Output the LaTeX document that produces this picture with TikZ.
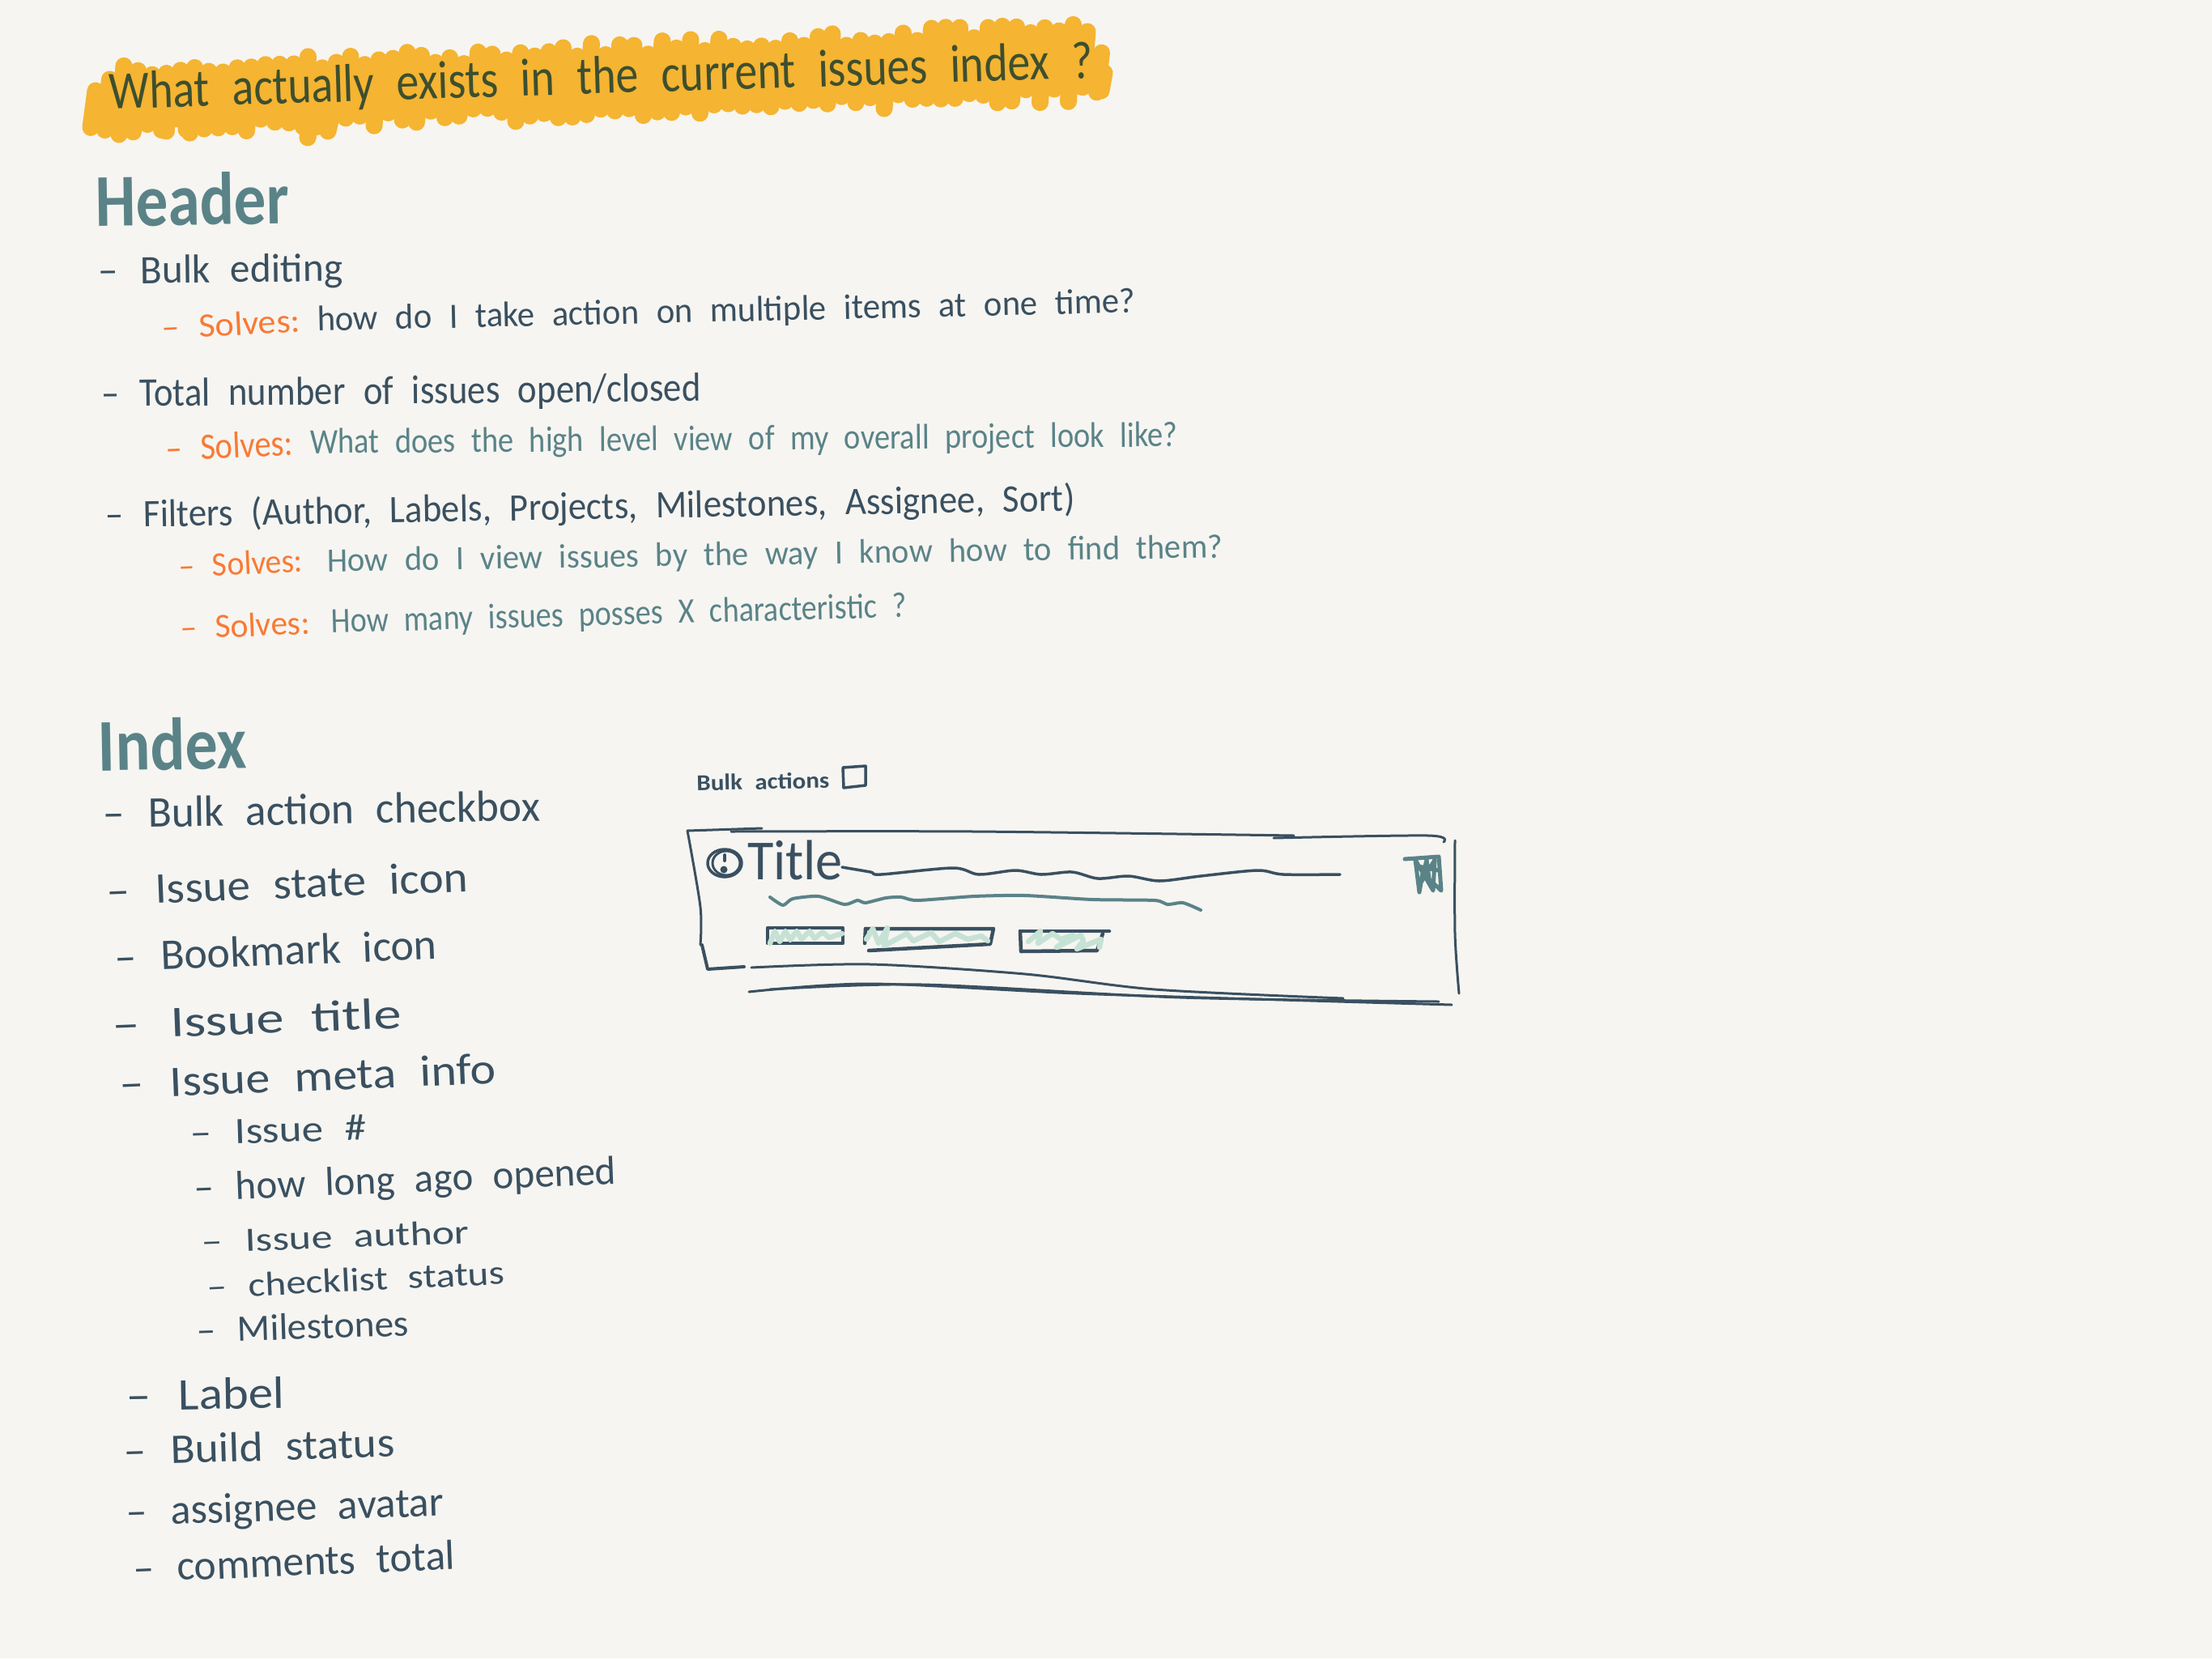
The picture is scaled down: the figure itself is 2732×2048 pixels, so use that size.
\documentclass[tikz,border=0pt]{standalone}
\usepackage{graphicx}
\usepackage{fontspec}
\setmainfont{Carlito}
\definecolor{bgc}{HTML}{F6F5F1}
\definecolor{inkc}{HTML}{3A5060}
\definecolor{tealc}{HTML}{5A8388}
\definecolor{orangec}{HTML}{F97A35}
\definecolor{yellowc}{HTML}{F5B431}
\definecolor{titlec}{HTML}{3D4F2F}
\definecolor{mintc}{HTML}{C6E2D4}
\tikzset{
  hwtext/.style={inner sep=0pt,anchor=base},
  sketch/.style={draw=inkc,line width=3pt,line cap=round,line join=round},
  tagbox/.style={draw=inkc,line width=4.5pt,line cap=round,line join=round},
  tealsketch/.style={draw=tealc,line width=3.2pt,line cap=round,line join=round},
  mintsketch/.style={draw=mintc,line width=6.5pt,line cap=round,line join=round},
  blob/.style={draw=yellowc,line width=21pt,line cap=round}
}
\newcommand{\dd}{–\hspace{0.55em}}
% name, xL, xR, yL, yR (display coordinates), font size, colour, text
\newcommand{\hw}[8]{%
  \pgfmathsetmacro{\cxx}{(#2+#3)/2*1.7423}%
  \pgfmathsetmacro{\cyy}{(#4+#5)/2*1.7423+0.22*#6}%
  \pgfmathsetmacro{\rott}{atan2(#4-#5,#3-#2)}%
  \pgfmathsetmacro{\wid}{veclen(#3-#2,#5-#4)*1.7423}%
  \node[hwtext,rotate=\rott,text=#7] (#1) at (\cxx,\cyy)
    {\fontsize{#6}{#6}\selectfont\spaceskip=0.5em\resizebox{\wid pt}{\height}{#8}};%
}
\begin{document}
\begin{tikzpicture}[x=1pt,y=-1pt]
\useasboundingbox (0,0) rectangle (2732,2048);
\fill[bgc] (0,0) rectangle (2732,2048);
% highlighter
\pgfmathsetseed{23}
\foreach \i in {0,...,71}{
  \pgfmathsetmacro{\xx}{112+\i*17.5}
  \pgfmathsetmacro{\yt}{90-(\xx-130)*0.046+rnd*18-9+(\xx>1345)*30+(\xx<115)*30}
  \pgfmathsetmacro{\yb}{160-(\xx-100)*0.035+rnd*18-9}
  \draw[blob] (\xx+6,\yt) -- (\xx,\yb);
}
\draw[blob] (205,140) -- (205,162);
\draw[blob] (232,140) -- (230,160);
\draw[blob] (385,140) -- (380,170);
\draw[blob] (410,140) -- (405,162);
\draw[blob] (1364,90) -- (1360,112);
% title and section heads
\hw{title}{78}{775}{69}{47}{66}{titlec}{What actually exists in the current issues index ?}
\hw{header}{68}{205}{149}{147}{92}{tealc}{\bfseries Header}
\hw{index}{70}{175}{535}{533}{92}{tealc}{\bfseries Index}
% header list
\hw{a1}{70}{243}{195}{193}{50}{inkc}{\dd Bulk editing}
\hw{a1s}{115}{213}{235}{230}{42}{orangec}{\dd Solves:}
\hw{a1t}{225}{805}{229}{216}{44}{inkc}{how do I take action on multiple items at one time?}
\hw{a2}{72}{497}{282}{278}{50}{inkc}{\dd Total number of issues open/closed}
\hw{a2s}{118}{208}{321}{317}{46}{orangec}{\dd Solves:}
\hw{a2t}{220}{835}{316}{311}{44}{tealc}{What does the high level view of my overall project look like?}
\hw{a3}{75}{762}{368}{356}{48}{inkc}{\dd Filters (Author, Labels, Projects, Milestones, Assignee, Sort)}
\hw{a3s}{127}{215}{404}{400}{42}{orangec}{\dd Solves:}
\hw{a3t}{232}{867}{400}{390}{42}{tealc}{How do I view issues by the way I know how to find them?}
\hw{a4s}{128}{220}{448}{444}{42}{orangec}{\dd Solves:}
\hw{a4t}{235}{643}{443}{432}{44}{tealc}{How many issues posses X characteristic ?}
% index list
\hw{b1}{73}{383}{580}{575}{54}{inkc}{\dd Bulk action checkbox}
\hw{b2}{76}{332}{635}{625}{54}{inkc}{\dd Issue state icon}
\hw{b3}{82}{310}{682}{673}{54}{inkc}{\dd Bookmark icon}
\hw{b4}{80}{285}{730}{722}{54}{inkc}{\dd Issue title}
\hw{b5}{85}{352}{772}{761}{54}{inkc}{\dd Issue meta info}
\hw{c1}{135}{260}{806}{802}{46}{inkc}{\dd Issue \#}
\hw{c2}{138}{437}{845}{833}{50}{inkc}{\dd how long ago opened}
\hw{c3}{143}{333}{883}{876}{42}{inkc}{\dd Issue author}
\hw{c4}{147}{358}{915}{905}{42}{inkc}{\dd checklist status}
\hw{c5}{140}{290}{946}{941}{46}{inkc}{\dd Milestones}
\hw{d1}{90}{202}{993}{991}{56}{inkc}{\dd Label}
\hw{d2}{88}{280}{1032}{1026}{52}{inkc}{\dd Build status}
\hw{d3}{90}{315}{1075}{1068}{52}{inkc}{\dd assignee avatar}
\hw{d4}{95}{323}{1115}{1106}{52}{inkc}{\dd comments total}
% sketch
\hw{bulk}{494}{588}{557}{555}{28}{inkc}{\bfseries Bulk actions}
\draw[sketch,line width=3.5pt] (1041,948) -- (1042,973) -- (1069,970) -- (1069,946) -- cycle;
\draw[sketch] (849,1026) -- (941,1023);
\draw[sketch] plot[smooth] coordinates {(903,1027) (1203,1027) (1598,1032)};
\draw[sketch] plot[smooth] coordinates {(1573,1035) (1764,1032) (1783,1040)};
\draw[sketch] plot[smooth] coordinates {(849,1026) (865,1120) (865,1167)};
\draw[sketch,line width=4pt] (867,1167) -- (874,1197) -- (919,1194);
\draw[sketch] plot[smooth] coordinates {(928,1195) (1075,1191) (1266,1203) (1426,1222) (1659,1233)};
\draw[sketch] plot[smooth] coordinates {(925,1225) (1075,1215) (1330,1227) (1585,1235) (1793,1241)};
\draw[sketch] plot[smooth] coordinates {(951,1222) (1139,1216) (1458,1232) (1777,1237)};
\draw[sketch] plot[smooth] coordinates {(1797,1038) (1797,1153) (1802,1227)};
% state icon
\draw[sketch,line width=3.5pt] (895,1066) ellipse (21pt and 17pt);
\draw[sketch] (897,1066) ellipse (17pt and 15pt);
\draw[sketch,line width=4pt] (895,1056) -- (895,1063);
\fill[inkc] (894,1074) circle (4.5pt);
\node[hwtext,text=inkc] (titleword) at (982,1086) {\fontsize{70}{70}\selectfont\resizebox{118pt}{\height}{Title}};
\draw[sketch,line width=3.5pt] plot[smooth] coordinates {(1040,1071) (1075,1077) (1088,1080) (1177,1072) (1209,1080) (1254,1075) (1286,1080) (1324,1077) (1356,1085) (1394,1082) (1432,1088) (1483,1082) (1553,1075) (1585,1080) (1655,1080)};
\draw[tealsketch,line width=4pt] plot[smooth,tension=0.4] coordinates {(951,1108) (967,1118) (979,1110) (1011,1107) (1043,1117) (1059,1112) (1069,1115) (1094,1109) (1113,1108) (1133,1112) (1203,1107) (1266,1106) (1349,1111) (1426,1112) (1442,1117) (1461,1115) (1483,1124)};
% bookmark
\draw[tealsketch,line width=5pt] (1735,1061) -- (1777,1058) -- (1780,1100) -- (1757,1078) -- (1753,1102) -- (1748,1062) -- (1770,1100) -- (1772,1062) -- (1755,1090) -- (1762,1062) -- (1765,1085) -- (1752,1070) -- (1776,1075);
% tags
\draw[tagbox] (948,1146) rectangle (1041,1165);
\draw[tagbox] (1069,1147) -- (1227,1147) -- (1223,1166) -- (1073,1174);
\draw[tagbox] (1069,1147) -- (1068,1165);
\draw[tagbox] (1260,1150) -- (1370,1150);
\draw[tagbox] (1260,1150) -- (1261,1175) -- (1355,1174) -- (1362,1153);
% tag scribbles
\draw[mintsketch] (951,1165) -- (957,1150) -- (963,1163) -- (970,1150) -- (976,1161) -- (984,1150) -- (990,1160) -- (1000,1150) -- (1006,1159) -- (1016,1151) -- (1024,1158) -- (1040,1153);
\draw[mintsketch] (1070,1160) -- (1078,1147) -- (1085,1165) -- (1096,1146) -- (1092,1168) -- (1120,1153) -- (1128,1162) -- (1150,1152) -- (1160,1163) -- (1180,1153) -- (1195,1160) -- (1212,1156) -- (1220,1162);
\draw[mintsketch] (1270,1163) -- (1285,1150) -- (1282,1165) -- (1300,1153) -- (1310,1160) -- (1325,1155) -- (1305,1170) -- (1335,1155) -- (1338,1162) -- (1330,1172) -- (1360,1160) -- (1358,1170);
\end{tikzpicture}
\end{document}
